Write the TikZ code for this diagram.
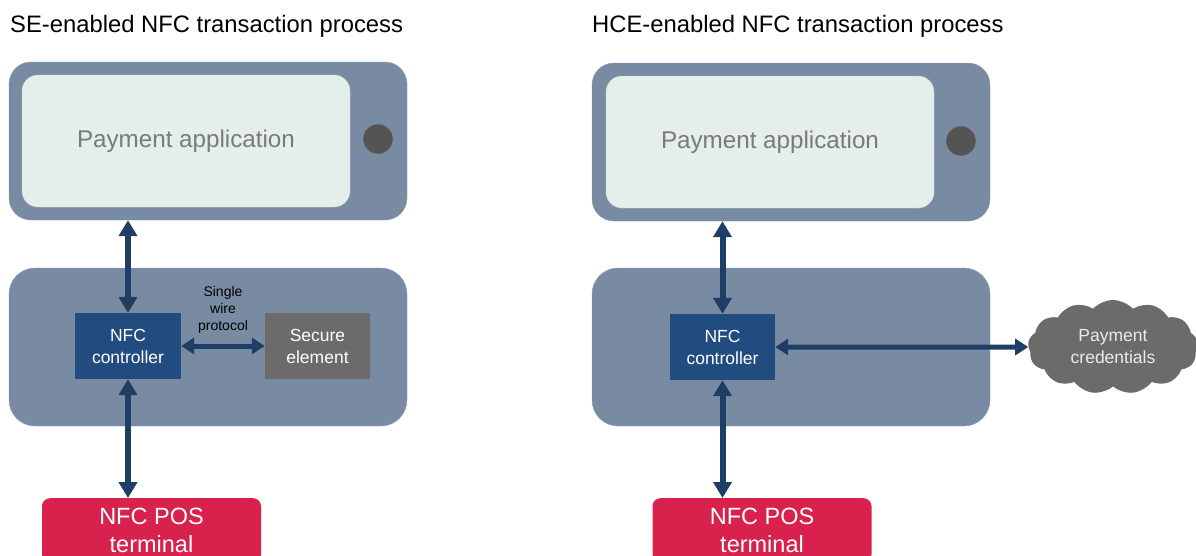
\documentclass[tikz,border=0pt]{standalone}
\usepackage{fontspec}
\setmainfont{Liberation Sans}
\usetikzlibrary{arrows.meta,shapes.symbols}

\definecolor{phonegray}{HTML}{788BA3}
\definecolor{screenfill}{HTML}{E4EEEA}
\definecolor{screenedge}{HTML}{CCD8D3}
\definecolor{apptext}{HTML}{7A7A7A}
\definecolor{buttondark}{HTML}{545454}
\definecolor{buttonedge}{HTML}{8A8A8A}
\definecolor{nfcblue}{HTML}{224C80}
\definecolor{segray}{HTML}{6B6B6B}
\definecolor{arrowblue}{HTML}{1F3E66}
\definecolor{posred}{HTML}{D8214C}

\begin{document}
\begin{tikzpicture}[x=1pt,y=-1pt,
    title/.style={anchor=base west,inner sep=0pt,font=\fontsize{23.8}{28}\selectfont},
    body/.style={draw=phonegray!85!white,fill=phonegray,rounded corners=22pt,
                 minimum width=398pt,minimum height=158pt,inner sep=0pt},
    screen/.style={draw=screenedge,fill=screenfill,rounded corners=16pt,
                   minimum width=328pt,minimum height=132pt,text=apptext,
                   font=\fontsize{24.2}{28}\selectfont},
    button/.style={circle,draw=buttonedge,fill=buttondark,minimum size=30pt,inner sep=0pt},
    chip/.style={text=white,minimum width=106pt,minimum height=66pt,inner sep=0pt,
                 align=center,font=\fontsize{17.5}{22}\selectfont},
    terminal/.style={fill=posred,text=white,rounded corners=8pt,minimum width=219pt,
                     minimum height=64pt,inner sep=0pt,align=center,
                     font=\fontsize{23.5}{28}\selectfont},
    link/.style={{Triangle[width=18pt,length=16pt]}-{Triangle[width=18pt,length=16pt]},
                 line width=6pt,draw=arrowblue},
    side link/.style={{Triangle[width=16pt,length=13pt]}-{Triangle[width=16pt,length=13pt]},
                 line width=5pt,draw=arrowblue}]

  \useasboundingbox[fill=white] (0,0) rectangle (1196,555);

  % SE-enabled side
  \node[title] (titleL) at (10,32) {SE-enabled NFC transaction process};
  \node[body] (phoneL) at (208,141) {};
  \node[screen] (appL) at (186,141) {Payment application};
  \node[button] (btnL) at (378,139) {};
  \node[body,rounded corners=26pt] (boardL) at (208,347) {};
  \node[chip,fill=nfcblue] (ctrlL) at (128,346) {NFC\\controller};
  \node[chip,fill=segray,minimum width=105pt] (seL) at (317.5,346) {Secure\\element};
  \node[terminal,anchor=north] (posL) at (151.5,498) {NFC POS\\terminal};

  \draw[link] (ctrlL.north |- phoneL.south) -- (ctrlL.north);
  \draw[link] (ctrlL.south) -- (ctrlL.south |- posL.north);
  \path (ctrlL) edge[side link] node[above=7pt,align=center,text=black,
        font=\fontsize{14}{17}\selectfont] {Single\\wire\\protocol} (seL);

  % HCE-enabled side
  \node[title] (titleR) at (592,32) {HCE-enabled NFC transaction process};
  \node[body] (phoneR) at (791,142) {};
  \node[screen] (appR) at (770,142) {Payment application};
  \node[button] (btnR) at (961,141) {};
  \node[body,rounded corners=26pt] (boardR) at (791,347) {};
  \node[chip,fill=nfcblue,minimum width=105pt] (ctrlR) at (722.5,347) {NFC\\controller};
  \node[cloud,cloud puffs=13,cloud puff arc=95,cloud ignores aspect,fill=segray,
        text=white!92!black,minimum width=170pt,minimum height=94pt,inner sep=0pt,
        align=center,font=\fontsize{17.5}{22}\selectfont] (credR) at (1113,347) {Payment\\credentials};
  \node[terminal,anchor=north] (posR) at (762,498) {NFC POS\\terminal};

  \draw[link] (ctrlR.north |- phoneR.south) -- (ctrlR.north);
  \draw[link] (ctrlR.south) -- (ctrlR.south |- posR.north);
  \draw[side link] (ctrlR) -- (credR);
\end{tikzpicture}
\end{document}
